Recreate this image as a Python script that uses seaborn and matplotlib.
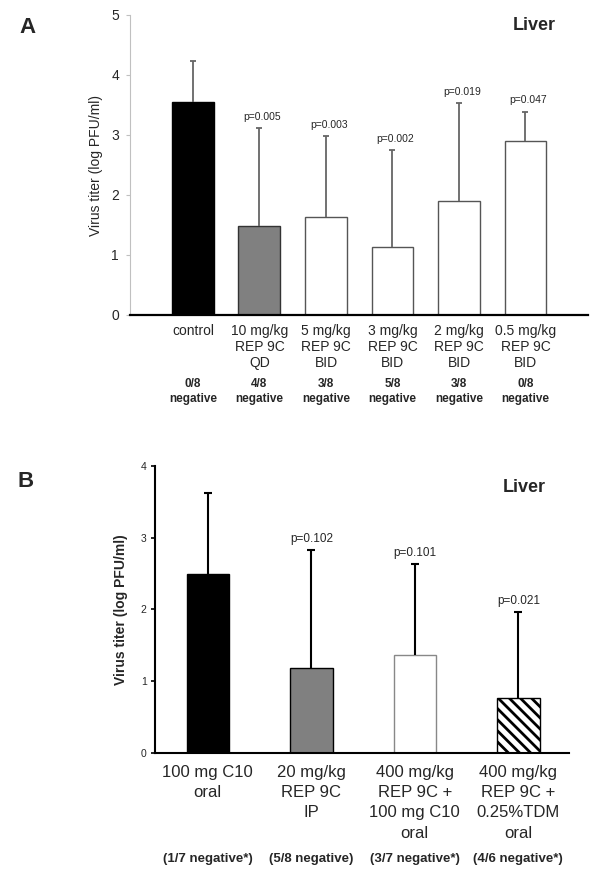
import numpy as np
import matplotlib
matplotlib.use("Agg")
import matplotlib.pyplot as plt
import seaborn as sns

# --- data ---
# Panel A
a_groups = ["control", "10 mg/kg\nREP 9C\nQD", "5 mg/kg\nREP 9C\nBID",
            "3 mg/kg\nREP 9C\nBID", "2 mg/kg\nREP 9C\nBID", "0.5 mg/kg\nREP 9C\nBID"]
a_mean = [3.55, 1.49, 1.63, 1.14, 1.90, 2.90]
a_sd = [0.69, 1.63, 1.35, 1.61, 1.63, 0.49]
a_pvals = ["", "p=0.005", "p=0.003", "p=0.002", "p=0.019", "p=0.047"]
a_negative = ["0/8\nnegative", "4/8\nnegative", "3/8\nnegative",
              "5/8\nnegative", "3/8\nnegative", "0/8\nnegative"]

# Panel B
b_groups = ["100 mg C10\noral", "20 mg/kg\nREP 9C\nIP",
            "400 mg/kg\nREP 9C +\n100 mg C10\noral", "400 mg/kg\nREP 9C +\n0.25%TDM\noral"]
b_mean = [2.49, 1.18, 1.37, 0.77]
b_sd = [1.14, 1.65, 1.26, 1.19]
b_pvals = ["", "p=0.102", "p=0.101", "p=0.021"]
b_negative = ["(1/7 negative*)", "(5/8 negative)", "(3/7 negative*)", "(4/6 negative*)"]

sns.set_style("white")
plt.rcParams['font.family'] = ['Liberation Sans', 'DejaVu Sans']
plt.rcParams['hatch.linewidth'] = 2.0

W, H = 600, 889
fig = plt.figure(figsize=(6, 8.89), dpi=100)


def px_axes(left, right, top, bottom):
    return fig.add_axes([left / W, 1 - bottom / H, (right - left) / W, (bottom - top) / H])


# ---------------- Panel A ----------------
axA = px_axes(130, 588, 15, 315)
a_colors = ["black", "#808080", "white", "white", "white", "white"]
sns.barplot(x=a_groups, y=a_mean, hue=a_groups, palette=a_colors, legend=False,
            width=0.63, saturation=1, ax=axA)
a_edges = ["black", "#333333", "#555555", "#555555", "#555555", "#555555"]
for patch, ec in zip(axA.patches, a_edges):
    patch.set_edgecolor(ec)
    patch.set_linewidth(1.0)

eb = axA.errorbar(range(len(a_mean)), a_mean, yerr=[np.zeros(len(a_sd)), a_sd],
                  fmt="none", ecolor="#666666", elinewidth=1.3, capsize=2.5, capthick=1.3)
eb[1][0].set_visible(False)

for i, p in enumerate(a_pvals):
    if p:
        axA.annotate(p, xy=(i, a_mean[i] + a_sd[i]), xytext=(2, 8),
                     textcoords="offset points", ha="center", va="center", fontsize=7.5)

for i, txt in enumerate(a_negative):
    axA.text(i, -0.255, txt, transform=axA.get_xaxis_transform(), ha="center", va="center",
             fontsize=8.5, fontweight="bold", linespacing=1.25)

axA.set_xlim(-0.946, 5.94)
axA.set_ylim(0, 5)
axA.set_yticks([0, 1, 2, 3, 4, 5])
axA.tick_params(axis="y", labelsize=10, length=3, width=0.8, color="#c0c0c0", pad=5, left=True)
axA.tick_params(axis="x", labelsize=10, length=0, pad=6.5)
for lbl in axA.get_xticklabels():
    lbl.set_linespacing(1.2)
axA.set_ylabel("Virus titer (log PFU/ml)", fontsize=10)
axA.yaxis.set_label_coords(-0.058, 0.5)
axA.set_xlabel("")
sns.despine(ax=axA)
axA.spines["left"].set_color("#c0c0c0")
axA.spines["left"].set_linewidth(0.8)
axA.spines["bottom"].set_linewidth(1.6)
axA.spines["bottom"].set_color("black")

fig.text(27 / W, 1 - 27.5 / H, "A", fontsize=16, fontweight="bold", ha="center", va="center")
fig.text(534 / W, 1 - 25 / H, "Liver", fontsize=13, fontweight="bold", ha="center", va="center")

# ---------------- Panel B ----------------
axB = px_axes(155, 569, 466, 752.7)
b_colors = ["black", "#808080", "white", "white"]
sns.barplot(x=b_groups, y=b_mean, hue=b_groups, palette=b_colors, legend=False,
            width=0.41, saturation=1, ax=axB)
b_edges = ["black", "black", "#888888", "black"]
for patch, ec in zip(axB.patches, b_edges):
    patch.set_edgecolor(ec)
    patch.set_linewidth(1.0)
axB.patches[3].set_hatch("\\\\\\")

eb = axB.errorbar(range(len(b_mean)), b_mean, yerr=[np.zeros(len(b_sd)), b_sd],
                  fmt="none", ecolor="black", elinewidth=1.5, capsize=3, capthick=1.5)
eb[1][0].set_visible(False)

for i, p in enumerate(b_pvals):
    if p:
        axB.annotate(p, xy=(i, b_mean[i] + b_sd[i]), xytext=(0, 8),
                     textcoords="offset points", ha="center", va="center", fontsize=8.5)

for i, txt in enumerate(b_negative):
    axB.text(i, -0.37, txt, transform=axB.get_xaxis_transform(), ha="center", va="center",
             fontsize=9.5, fontweight="bold")

axB.set_xlim(-0.51, 3.49)
axB.set_ylim(0, 4)
axB.set_yticks([0, 1, 2, 3, 4])
axB.tick_params(axis="y", labelsize=7.5, length=3, width=1.2, color="black", pad=3, left=True)
axB.tick_params(axis="x", labelsize=12, length=0, pad=8.5)
for lbl in axB.get_xticklabels():
    lbl.set_linespacing(1.45)
axB.set_ylabel("Virus titer (log PFU/ml)", fontsize=10, fontweight="bold")
axB.yaxis.set_label_coords(-0.065, 0.5)
axB.set_xlabel("")
sns.despine(ax=axB)
for s in ["left", "bottom"]:
    axB.spines[s].set_linewidth(1.5)
    axB.spines[s].set_color("black")

fig.text(25.5 / W, 1 - 482 / H, "B", fontsize=16, fontweight="bold", ha="center", va="center")
fig.text(524 / W, 1 - 488 / H, "Liver", fontsize=13, fontweight="bold", ha="center", va="center")

fig.savefig("out.png", dpi=100, facecolor="white")
